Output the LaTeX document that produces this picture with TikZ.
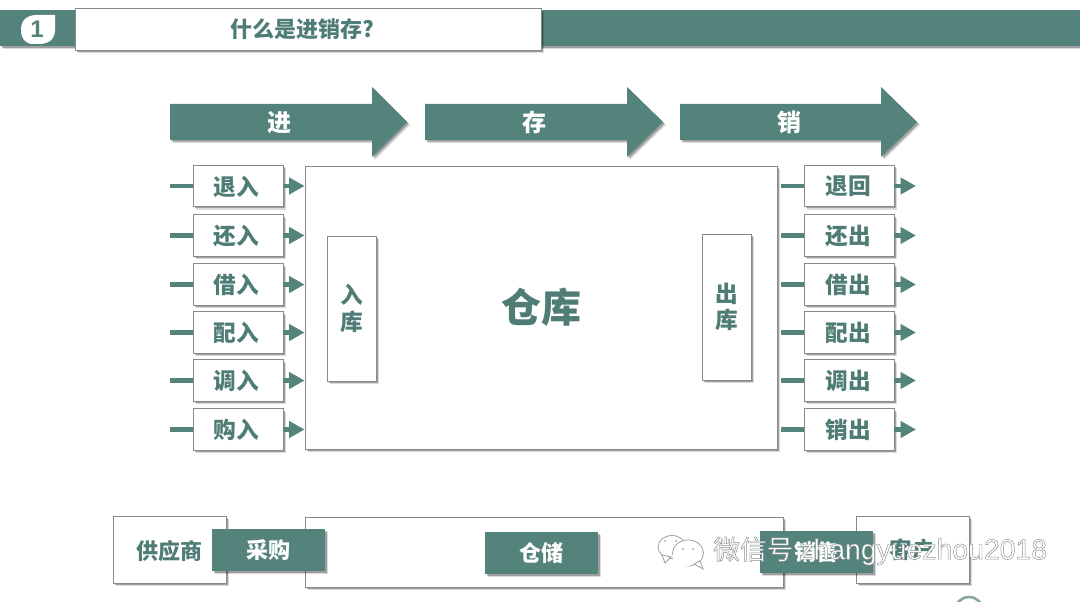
\documentclass[tikz,border=0pt]{standalone}
\usepackage{fontspec}
\setmainfont{Noto Sans CJK SC}
\newfontfamily\latinfont{Liberation Sans}
\usetikzlibrary{shadows,arrows.meta,shapes.arrows}
\definecolor{teal1}{HTML}{53837B}
\definecolor{tealtext}{HTML}{4F7D76}
\definecolor{edgegray}{HTML}{8A8A8A}
\newcommand{\outlinetext}[1]{\special{pdf:code q 2 Tr 0.35 w 0.55 0.55 0.55 RG 1 1 1 rg}#1\special{pdf:code Q}}
\tikzset{
  x=0.75pt,y=-0.75pt,
  softshadow/.style={
    drop shadow={shadow xshift=2.2pt,shadow yshift=-2.2pt,opacity=.14,fill=black},
    drop shadow={shadow xshift=1.3pt,shadow yshift=-1.3pt,opacity=.28,fill=black}},
  whitebox/.style={rectangle,draw=edgegray,line width=0.7pt,fill=white,softshadow,inner sep=0pt,text=tealtext,font=\bfseries\fontsize{17}{18}\selectfont},
  tealbox/.style={rectangle,fill=teal1,softshadow,inner sep=0pt,text=white,font=\bfseries\fontsize{16.5}{18}\selectfont,minimum width=84.75pt,minimum height=31.5pt},
  rowbox/.style={whitebox,minimum width=67.5pt,minimum height=31pt},
  rowtext/.style={text=tealtext,font=\bfseries\fontsize{17}{18}\selectfont,inner sep=0pt},
  bigarrow/.style={fill=teal1,softshadow},
  arrowlabel/.style={text=white,font=\bfseries\fontsize{18}{20}\selectfont,inner sep=0pt},
  stub/.style={draw=teal1,line width=3.6pt},
  flow/.style={draw=teal1,line width=3.6pt,-{Triangle[length=11.5pt,width=12pt]},shorten >=0pt},
}
\begin{document}
\begin{tikzpicture}
\useasboundingbox (0,0) rectangle (1080,602);
\begin{scope}
\clip (0,0) rectangle (1080,602);
\fill[white] (0,0) rectangle (1080,602);
% header
\node[rectangle,fill=teal1,softshadow,minimum width=810pt,minimum height=27pt,inner sep=0pt] (band) at (540,28.5) {};
\fill[white] (21,30) .. controls (21,20) and (27,15) .. (37,15) -- (55,15) -- (55,30) .. controls (55,39) and (49,44) .. (39,44) -- (33,44) .. controls (25,44) and (21,38) .. (21,30) -- cycle;
\node[text=teal1,font=\latinfont\bfseries\fontsize{18}{20}\selectfont,inner sep=0pt] (num) at (37,29.5) {1};
\node[rectangle,draw=edgegray,line width=0.7pt,fill=white,softshadow,minimum width=349.5pt,minimum height=31pt,inner sep=0pt] (title) at (308.5,29.5) {};
\node[text=tealtext,font=\bfseries\fontsize{16.5}{18}\selectfont,inner sep=0pt] (titletext) at (302,29) {什么是进销存?};
% big arrows
\foreach \n/\xa/\xb/\xc/\t/\tx in {a/170/372/407/进/279,b/425/627/663/存/534,c/680/881/917/销/789}{
  \path[bigarrow] (\xa,104) -- (\xb,104) -- (\xb,87) -- (\xc,122) -- (\xb,157) -- (\xb,140) -- (\xa,140) -- cycle;
  \coordinate (\n mid) at (\tx,122.5);
  \node[arrowlabel] (\n label) at (\n mid) {\t};
}
% warehouse
\node[whitebox,minimum width=354pt,minimum height=212.25pt,font=\bfseries\fontsize{30}{32}\selectfont] (wh) at (541,307.5) {仓库};
\node[whitebox,minimum width=36.75pt,minimum height=108.75pt,align=center] (inb) at (351.5,308.5) {入\\[2pt]库};
\node[whitebox,minimum width=36.75pt,minimum height=109.5pt,align=center] (outb) at (726.5,307) {出\\[2pt]库};
% rows
\foreach \i/\y/\l/\r in {1/186/退入/退回,2/235.5/还入/还出,3/284.5/借入/借出,4/332.5/配入/配出,5/380.5/调入/调出,6/429.5/购入/销出}{
  \node[rowbox] (L\i) at (238,\y) {};
  \node[rowbox] (R\i) at (849,\y) {};
  \node[rowtext] (Lt\i) at (236.5,\y+0.5) {\l};
  \node[rowtext] (Rt\i) at (848.5,\y+0.5) {\r};
  \coordinate (Ls\i) at (170,\y);
  \coordinate (Rs\i) at (781,\y);
  \coordinate (Re\i) at (916,\y);
  \path[stub] (Ls\i) -- (L\i.west);
  \path[stub] (Rs\i) -- (R\i.west);
  \path[flow] (L\i.east) -- (wh.west |- L\i.east);
  \path[flow] (R\i.east) -- (Re\i);
}
% bottom row
\node[whitebox,minimum width=84.75pt,minimum height=50.25pt] (sup) at (169.5,549.5) {};
\node[whitebox,minimum width=358.5pt,minimum height=52.5pt] (store) at (544,552) {};
\node[whitebox,minimum width=84.75pt,minimum height=50.25pt] (cust) at (912.5,549.5) {客户};
\node[text=tealtext,font=\bfseries\fontsize{16.5}{18}\selectfont,inner sep=0pt] (suplabel) at (169,551) {供应商};
\node[tealbox] (buy) at (268.5,550) {采购};
\node[tealbox] (cang) at (541.5,553) {仓储};
\node[tealbox] (sale) at (816.5,552) {销售};
% watermark
\begin{scope}[draw=gray!75,fill=white,line width=0.6pt]
\filldraw (672,547) ellipse (14 and 11.5);
\filldraw (662,555) -- (665,563) -- (671,557) -- cycle;
\filldraw (688,553) ellipse (15.5 and 13);
\filldraw (694,564) -- (703,569) -- (700,561) -- cycle;
\fill[white] (685,556) ellipse (12.5 and 10.5);
\fill[gray!75] (683,549) circle (1) (693,549) circle (1) (665,541) circle (1) (676,541) circle (1);
\end{scope}
\node[inner sep=0pt,anchor=west,font=\fontsize{20}{22}\selectfont] (wm) at (713,551) {\outlinetext{微信号 {\latinfont\fontsize{21.3}{22}\selectfont zhangyuezhou2018}}};
% corner badge
\node[circle,draw=teal1!70,line width=2pt,fill=white,minimum size=21pt,inner sep=0pt] (badge) at (969,611) {};
\end{scope}
\end{tikzpicture}
\end{document}
